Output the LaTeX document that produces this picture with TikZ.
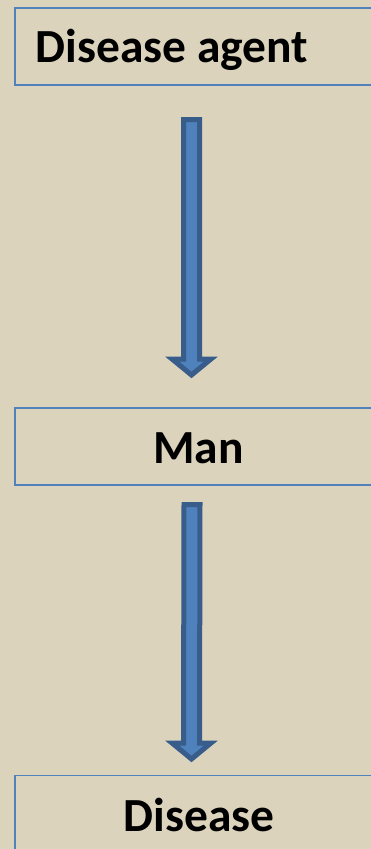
\documentclass[tikz,border=0pt]{standalone}
\usepackage{fontspec}
\setmainfont{Carlito}
\usetikzlibrary{calc}
\definecolor{bgc}{RGB}{220,211,189}
\definecolor{boxc}{RGB}{79,129,189}
\definecolor{arrfill}{RGB}{79,129,189}
\definecolor{arrline}{RGB}{56,93,138}
\tikzset{
  stagebox/.style={draw=boxc, line width=1.8pt},
  stagetext/.style={font=\bfseries\fontsize{47.5}{52}\selectfont, text=black, inner sep=0pt, anchor=base},
  blockarrow/.style={draw=arrline, fill=arrfill, line width=5pt, line join=miter}
}
\begin{document}
\begin{tikzpicture}[x=1pt,y=-1pt]
\useasboundingbox (0,0) rectangle (371,849);
\clip (0,0) rectangle (371,849);
\fill[bgc] (0,0) rectangle (371,849);
% boxes
\draw[stagebox] (14.7,8.3) rectangle (390,85);
\node[stagetext] (t1) at (172,62) {Disease agent};
\draw[stagebox] (14.7,408) rectangle (390,485);
\node[stagetext] (t2) at (198.5,463) {Man};
\draw[stagebox] (14.7,775.5) rectangle (390,870);
\node[stagetext] (t3) at (199,831) {Disease};
% arrows
\coordinate (a1s) at (191.5,119.5);
\coordinate (a1e) at (191.5,375);
\coordinate (a2s) at (192,504.5);
\coordinate (a2e) at (191.5,759);
\draw[blockarrow] ($(a1s)+(-8,0)$) -- ($(a1s)+(8,0)$) -- ($(a1e)+(8,-16)$) -- ($(a1e)+(19.5,-16)$) -- (a1e) -- ($(a1e)+(-19.5,-16)$) -- ($(a1e)+(-8,-16)$) -- cycle;
\draw[blockarrow] ($(a2s)+(-8,0)$) -- ($(a2s)+(8,0)$) -- ($(a2e)+(8,-16)$) -- ($(a2e)+(19.5,-16)$) -- (a2e) -- ($(a2e)+(-19.5,-16)$) -- ($(a2e)+(-8,-16)$) -- cycle;
\end{tikzpicture}
\end{document}
